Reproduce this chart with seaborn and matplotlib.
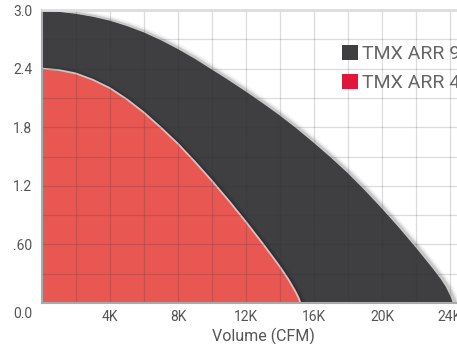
import numpy as np
import pandas as pd
import seaborn as sns
import matplotlib.pyplot as plt
import matplotlib.transforms as mtransforms
from matplotlib.patches import Patch

# fan curves (volume in K CFM, pressure)
arr9_cfm = [0, 1, 2, 3, 4, 5, 6, 7, 8, 9, 10, 11, 12, 13, 14, 15, 16, 17, 18, 19,
            20, 21, 22, 23, 23.5, 23.8, 24.0, 24.15, 24.2]
arr9_p = [3.0, 2.99, 2.97, 2.94, 2.9, 2.845, 2.78, 2.7, 2.61, 2.51, 2.4, 2.29, 2.175,
          2.055, 1.93, 1.795, 1.65, 1.5, 1.34, 1.165, 0.98, 0.785, 0.58, 0.365, 0.25,
          0.17, 0.1, 0.04, 0.0]
arr4_cfm = [0, 1, 2, 3, 4, 5, 6, 7, 8, 9, 10, 11, 12, 13, 14, 14.5, 14.9, 15.1, 15.2]
arr4_p = [2.4, 2.385, 2.35, 2.285, 2.2, 2.085, 1.95, 1.795, 1.63, 1.445, 1.25, 1.045,
          0.83, 0.605, 0.37, 0.24, 0.12, 0.05, 0.0]

series_names = ['TMX ARR 9', 'TMX ARR 4']
fill_colors = ['#3f3f42', '#e85752']
legend_colors = ['#3f3f42', '#e0163a']

xticks = [4, 8, 12, 16, 20, 24]
xtick_labels = ['4K', '8K', '12K', '16K', '20K', '24K']
yticks = [0.0, 0.6, 1.2, 1.8, 2.4, 3.0]
ytick_labels = ['0.0', '.60', '1.2', '1.8', '2.4', '3.0']

sns.set_theme(style='white')
plt.rcParams['font.family'] = ['Roboto', 'DejaVu Sans']

df9 = pd.DataFrame({'cfm': arr9_cfm, 'p': arr9_p})
df4 = pd.DataFrame({'cfm': arr4_cfm, 'p': arr4_p})

fig = plt.figure(figsize=(4.57, 3.44), dpi=100)
W, H = 457, 344
ax = fig.add_axes([42 / W, 1 - 303 / H, (484 - 42) / W, (303 - 10) / H])

for d, col, z in [(df9, fill_colors[0], 1.0), (df4, fill_colors[1], 1.6)]:
    # soft shadow under the edge
    for lw, a in [(7, 0.05), (4.5, 0.07), (3, 0.1)]:
        ax.plot(d['cfm'] + 0.08, d['p'] - 0.015, color='black', lw=lw, alpha=a,
                zorder=z - 0.1, solid_capstyle='butt')
    ax.fill_between(d['cfm'], 0, d['p'], color=col, lw=0, zorder=z)
    sns.lineplot(data=d, x='cfm', y='p', color='#c8c8c8', lw=1.3, ax=ax,
                 zorder=z + 0.2, sort=False)

ax.set_xlim(0, 26)
ax.set_ylim(0, 3.0)
ax.set_xticks(np.arange(2, 26.1, 4), minor=True)
ax.set_yticks(np.arange(0.3, 3.01, 0.6), minor=True)
ax.set_xticks(xticks)
ax.set_xticklabels(xtick_labels)
ax.set_yticks(yticks)
ax.set_yticklabels(ytick_labels)
ax.grid(which='both', color='#303030', alpha=0.17, lw=0.9)
ax.set_axisbelow(False)
ax.tick_params(which='both', length=0, colors='#555555', labelsize=10)
ax.tick_params(axis='x', pad=5)
ax.tick_params(axis='y', pad=7)

# the 0.0 label sits on the x label row
lab0 = ax.get_yticklabels()[0]
lab0.set_transform(lab0.get_transform() +
                   mtransforms.ScaledTranslation(0, -10 / 100, fig.dpi_scale_trans))

ax.set_xlabel('Volume (CFM)', fontsize=11.5, color='#555555', labelpad=3)
ax.set_ylabel('')

ax.spines['top'].set_color('#dddddd')
ax.spines['top'].set_linewidth(2)
ax.spines['left'].set_color('#aaaaaa')
ax.spines['left'].set_linewidth(1.5)
ax.spines['bottom'].set_color('#aaaaaa')
ax.spines['bottom'].set_linewidth(1.5)
ax.spines['right'].set_visible(False)
for s in ax.spines.values():
    s.set_zorder(7)

handles = [Patch(facecolor=c, edgecolor='none') for c in legend_colors]
leg = fig.legend(handles, series_names, loc='upper left',
                 bbox_to_anchor=(342 / W, 1 - 45 / H), frameon=False,
                 fontsize=14, handlelength=0.82, handleheight=0.82,
                 handletextpad=0.2, labelspacing=0.55, borderpad=0,
                 borderaxespad=0)
for t in leg.get_texts():
    t.set_color('#666666')

fig.savefig('out.png', dpi=100)
